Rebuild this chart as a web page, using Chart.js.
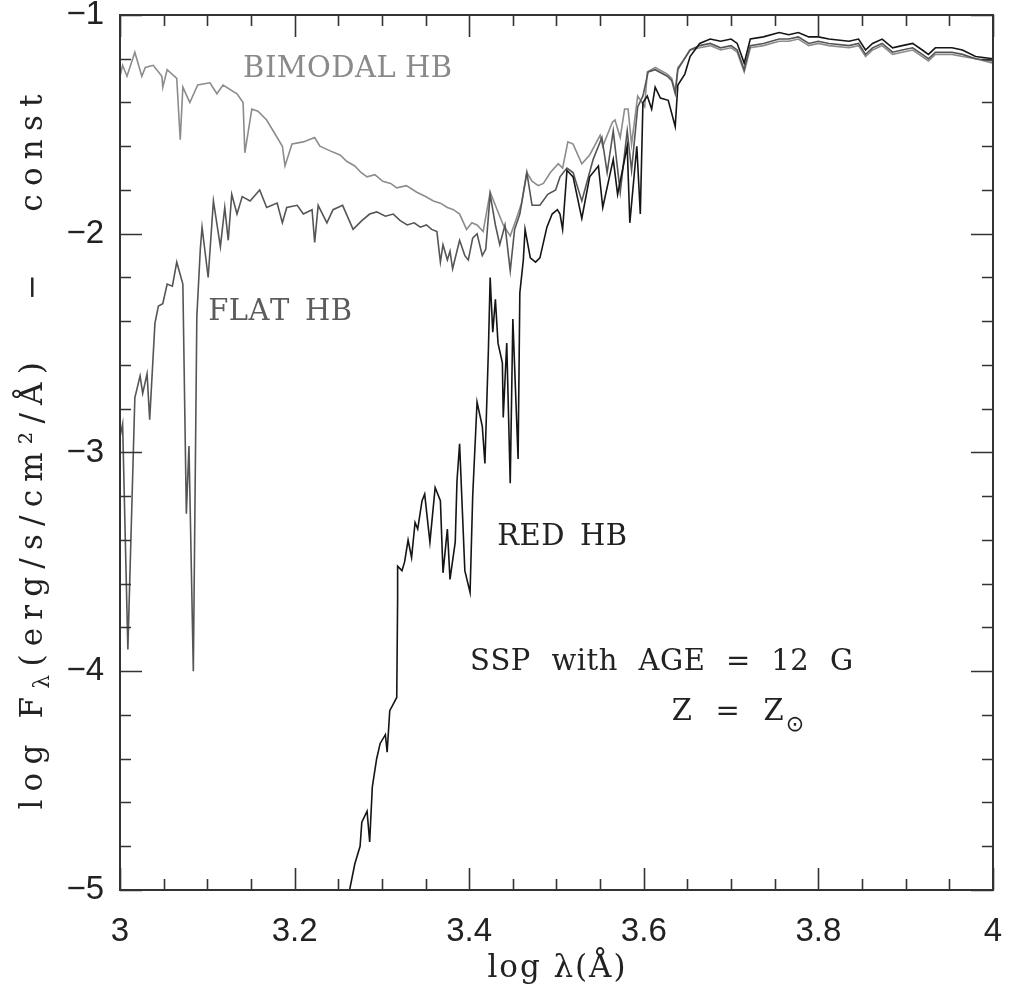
<!DOCTYPE html>
<html>
<head>
<meta charset="utf-8">
<script src="https://cdn.jsdelivr.net/npm/chart.js@4.4.1/dist/chart.umd.min.js"></script>
<style>
  html, body { margin: 0; padding: 0; background: #fff; }
  #wrap { width: 1009px; height: 994px; position: relative; }
</style>
</head>
<body>
<div id="wrap"><canvas id="spec"></canvas></div>
<script>
// log lambda (A) vs log F_lambda - const
const redHB = [
  [3.263,-5.00],[3.269,-4.88],[3.275,-4.80],[3.277,-4.69],[3.283,-4.64],[3.286,-4.78],[3.289,-4.53],
  [3.294,-4.40],[3.298,-4.33],[3.304,-4.29],[3.306,-4.37],[3.309,-4.18],[3.313,-4.15],[3.317,-4.12],
  [3.318,-3.67],[3.318,-3.52],[3.323,-3.54],[3.326,-3.50],[3.330,-3.40],[3.334,-3.48],[3.338,-3.32],
  [3.341,-3.35],[3.346,-3.22],[3.349,-3.19],[3.355,-3.41],[3.361,-3.16],[3.367,-3.22],[3.370,-3.55],
  [3.375,-3.35],[3.378,-3.58],[3.384,-3.41],[3.386,-3.13],[3.389,-2.96],[3.395,-3.54],[3.401,-3.64],
  [3.404,-3.20],[3.409,-2.77],[3.415,-2.88],[3.418,-3.05],[3.422,-2.53],[3.424,-2.20],[3.427,-2.45],
  [3.430,-2.30],[3.433,-2.50],[3.438,-2.59],[3.439,-2.84],[3.443,-2.50],[3.447,-3.14],[3.450,-2.39],
  [3.456,-3.03],[3.458,-2.27],[3.462,-2.12],[3.464,-1.98],[3.470,-2.11],[3.476,-2.13],[3.481,-2.11],
  [3.489,-1.97],[3.495,-1.91],[3.501,-1.89],[3.504,-1.91],[3.507,-1.98],[3.512,-1.71],[3.519,-1.74],
  [3.529,-1.93],[3.538,-1.74],[3.548,-1.69],[3.553,-1.88],[3.565,-1.66],[3.570,-1.82],[3.581,-1.60],
  [3.584,-1.95],[3.592,-1.60],[3.596,-1.91],[3.599,-1.40],[3.604,-1.37],[3.609,-1.43],[3.613,-1.33],
  [3.619,-1.38],[3.628,-1.39],[3.636,-1.51],[3.639,-1.32],[3.647,-1.27],[3.653,-1.19],[3.664,-1.13],
  [3.676,-1.11],[3.688,-1.12],[3.700,-1.11],[3.707,-1.13],[3.715,-1.22],[3.722,-1.11],[3.737,-1.10],
  [3.755,-1.08],[3.766,-1.09],[3.777,-1.08],[3.789,-1.10],[3.800,-1.10],[3.812,-1.11],[3.835,-1.12],
  [3.846,-1.11],[3.854,-1.16],[3.862,-1.13],[3.873,-1.11],[3.885,-1.15],[3.896,-1.14],[3.908,-1.13],
  [3.919,-1.16],[3.926,-1.18],[3.934,-1.15],[3.953,-1.15],[3.965,-1.16],[3.980,-1.19],[4.000,-1.20]
];

const flatHB = [
  [3.000,-2.93],[3.003,-2.87],[3.009,-3.90],[3.017,-2.75],[3.023,-2.65],[3.026,-2.73],[3.031,-2.64],
  [3.034,-2.85],[3.040,-2.41],[3.044,-2.33],[3.049,-2.32],[3.054,-2.23],[3.060,-2.24],[3.065,-2.13],
  [3.072,-2.23],[3.076,-3.28],[3.079,-2.97],[3.084,-4.00],[3.088,-2.38],[3.092,-2.07],[3.094,-1.97],
  [3.101,-2.20],[3.107,-1.85],[3.115,-2.06],[3.120,-1.88],[3.124,-2.03],[3.128,-1.82],[3.134,-1.91],
  [3.140,-1.83],[3.149,-1.85],[3.160,-1.80],[3.168,-1.88],[3.180,-1.86],[3.186,-1.95],[3.191,-1.88],
  [3.203,-1.87],[3.210,-1.91],[3.220,-1.89],[3.223,-2.04],[3.227,-1.87],[3.237,-1.95],[3.244,-1.89],
  [3.255,-1.87],[3.267,-1.98],[3.277,-1.94],[3.286,-1.91],[3.294,-1.90],[3.304,-1.92],[3.313,-1.91],
  [3.321,-1.94],[3.329,-1.96],[3.337,-1.95],[3.344,-1.97],[3.351,-1.96],[3.357,-1.98],[3.363,-1.99],
  [3.367,-2.13],[3.370,-2.05],[3.375,-2.12],[3.378,-2.08],[3.381,-2.16],[3.389,-2.03],[3.395,-2.10],
  [3.399,-2.12],[3.404,-2.02],[3.409,-2.00],[3.415,-2.10],[3.419,-2.07],[3.424,-1.82],[3.430,-1.96],
  [3.435,-2.05],[3.441,-1.96],[3.447,-2.17],[3.452,-1.98],[3.458,-1.91],[3.466,-1.72],[3.472,-1.87],
  [3.481,-1.87],[3.490,-1.82],[3.499,-1.80],[3.504,-1.74],[3.512,-1.70],[3.519,-1.72],[3.529,-1.85],
  [3.542,-1.66],[3.552,-1.56],[3.558,-1.72],[3.565,-1.53],[3.573,-1.81],[3.581,-1.53],[3.586,-1.71],
  [3.593,-1.42],[3.599,-1.37],[3.605,-1.26],[3.613,-1.25],[3.627,-1.28],[3.632,-1.30],[3.636,-1.36],
  [3.639,-1.25],[3.645,-1.21],[3.653,-1.16],[3.664,-1.14],[3.676,-1.13],[3.688,-1.15],[3.700,-1.14],
  [3.707,-1.16],[3.715,-1.25],[3.722,-1.14],[3.737,-1.13],[3.755,-1.11],[3.766,-1.11],[3.777,-1.10],
  [3.789,-1.13],[3.800,-1.12],[3.812,-1.13],[3.835,-1.14],[3.846,-1.13],[3.854,-1.18],[3.862,-1.15],
  [3.873,-1.13],[3.885,-1.17],[3.896,-1.16],[3.908,-1.15],[3.919,-1.18],[3.926,-1.20],[3.934,-1.17],
  [3.953,-1.17],[3.965,-1.18],[3.980,-1.20],[4.000,-1.21]
];

const bimodalHB = [
  [3.000,-1.28],[3.003,-1.23],[3.008,-1.28],[3.017,-1.17],[3.025,-1.28],[3.029,-1.24],[3.038,-1.23],
  [3.048,-1.28],[3.049,-1.33],[3.054,-1.25],[3.065,-1.29],[3.069,-1.57],[3.072,-1.33],[3.080,-1.40],
  [3.089,-1.32],[3.103,-1.31],[3.111,-1.36],[3.118,-1.32],[3.134,-1.36],[3.141,-1.40],[3.143,-1.63],
  [3.151,-1.43],[3.158,-1.44],[3.168,-1.48],[3.180,-1.56],[3.186,-1.60],[3.189,-1.69],[3.197,-1.59],
  [3.210,-1.58],[3.223,-1.56],[3.229,-1.60],[3.240,-1.62],[3.252,-1.64],[3.260,-1.67],[3.269,-1.69],
  [3.276,-1.72],[3.283,-1.74],[3.292,-1.73],[3.301,-1.76],[3.310,-1.77],[3.317,-1.79],[3.328,-1.78],
  [3.340,-1.81],[3.350,-1.83],[3.359,-1.85],[3.367,-1.86],[3.375,-1.88],[3.382,-1.89],[3.389,-1.91],
  [3.397,-1.98],[3.403,-1.95],[3.409,-1.96],[3.416,-1.99],[3.424,-1.81],[3.432,-1.89],[3.439,-1.96],
  [3.447,-2.01],[3.455,-1.92],[3.460,-1.86],[3.466,-1.72],[3.472,-1.76],[3.479,-1.78],[3.485,-1.77],
  [3.493,-1.72],[3.502,-1.68],[3.507,-1.70],[3.513,-1.58],[3.519,-1.59],[3.529,-1.68],[3.538,-1.64],
  [3.550,-1.55],[3.553,-1.60],[3.564,-1.49],[3.567,-1.48],[3.573,-1.56],[3.578,-1.43],[3.582,-1.43],
  [3.586,-1.59],[3.593,-1.37],[3.601,-1.42],[3.604,-1.26],[3.613,-1.24],[3.627,-1.27],[3.632,-1.29],
  [3.636,-1.35],[3.639,-1.24],[3.645,-1.21],[3.653,-1.16],[3.664,-1.15],[3.676,-1.14],[3.688,-1.16],
  [3.700,-1.15],[3.707,-1.17],[3.715,-1.26],[3.722,-1.15],[3.737,-1.14],[3.755,-1.12],[3.766,-1.12],
  [3.777,-1.11],[3.789,-1.14],[3.800,-1.13],[3.812,-1.14],[3.835,-1.15],[3.846,-1.14],[3.854,-1.19],
  [3.862,-1.16],[3.873,-1.14],[3.885,-1.18],[3.896,-1.17],[3.908,-1.16],[3.919,-1.19],[3.926,-1.21],
  [3.934,-1.18],[3.953,-1.18],[3.965,-1.19],[3.980,-1.20],[4.000,-1.22]
];

const xRange = [3, 4];
const yRange = [-5, -1];
const xMajor = 0.2, xMinor = 0.05;
const yMajor = 1, yMinor = 0.2;

// text labels anchored in data coordinates (left edge, middle), w = drawn width in px
const notes = [
  { text: 'BIMODAL HB', x: 3.141, y: -1.25, w: 209, color: '#8a8a8a' },
  { text: 'FLAT HB', x: 3.101, y: -2.36, w: 144, color: '#5c5c5c' },
  { text: 'RED HB', x: 3.432, y: -3.39, w: 130, color: '#222' },
  { text: 'SSP with AGE = 12 G', x: 3.401, y: -3.96, w: 383, color: '#222' },
  { text: 'Z = Z', x: 3.632, y: -4.19, w: 112, color: '#222' }
];

const tickFont = { family: '"Liberation Sans", Arial, sans-serif', size: 33 };
const serif = '"DejaVu Serif", "Liberation Serif", serif';

function fmt(v) {
  const r = Math.round(v * 10) / 10;
  return (r < 0 ? '\u2212' + Math.abs(r) : String(r));
}

// draw a string char by char, extra room going to the word gaps
function wordSpaced(ctx, str, x, y, target, letter) {
  const chars = [...str];
  const widths = chars.map(c => ctx.measureText(c).width);
  const nat = widths.reduce((s, v) => s + v, 0) + letter * (chars.length - 1);
  const gaps = chars.filter(c => c === ' ').length;
  const extra = gaps ? (target - nat) / gaps : 0;
  let cx = x;
  chars.forEach((c, i) => {
    if (c !== ' ') ctx.fillText(c, cx, y);
    cx += widths[i] + letter + (c === ' ' ? extra : 0);
  });
  return cx - letter;
}

// draw runs [{t, font, dy}] evenly letter-spaced to a total length, centred on 0
function fitRuns(ctx, runs, target) {
  const items = [];
  runs.forEach(r => {
    ctx.font = r.font;
    [...r.t].forEach(c => items.push({ c, font: r.font, dy: r.dy || 0, w: ctx.measureText(c).width }));
  });
  const nat = items.reduce((s, it) => s + it.w, 0);
  const sp = (target - nat) / (items.length - 1);
  let cx = -target / 2;
  items.forEach(it => {
    ctx.font = it.font;
    if (it.c !== ' ') ctx.fillText(it.c, cx, it.dy);
    cx += it.w + sp;
  });
}

const framePlugin = {
  id: 'frame',
  afterDraw(chart) {
    const { ctx, chartArea: a, scales: { x, y } } = chart;
    ctx.save();
    ctx.strokeStyle = '#333';
    ctx.lineWidth = 2;
    ctx.strokeRect(a.left, a.top, a.right - a.left, a.bottom - a.top);

    ctx.lineWidth = 1.6;
    ctx.beginPath();
    for (let v = xRange[0]; v <= xRange[1] + 1e-9; v += xMinor) {
      const isMajor = Math.abs(v / xMajor - Math.round(v / xMajor)) < 1e-6;
      const len = isMajor ? 22 : 11;
      const px = Math.round(x.getPixelForValue(v)) + 0.5;
      ctx.moveTo(px, a.bottom); ctx.lineTo(px, a.bottom - len);
      ctx.moveTo(px, a.top); ctx.lineTo(px, a.top + len);
    }
    for (let v = yRange[0]; v <= yRange[1] + 1e-9; v += yMinor) {
      const isMajor = Math.abs(v / yMajor - Math.round(v / yMajor)) < 1e-6;
      const len = isMajor ? 22 : 11;
      const py = Math.round(y.getPixelForValue(v)) + 0.5;
      ctx.moveTo(a.left, py); ctx.lineTo(a.left + len, py);
      ctx.moveTo(a.right, py); ctx.lineTo(a.right - len, py);
    }
    ctx.stroke();

    // annotations
    ctx.font = '29px ' + serif;
    ctx.textBaseline = 'middle';
    ctx.textAlign = 'left';
    let zEnd = 0, zy = 0;
    notes.forEach(n => {
      ctx.fillStyle = n.color;
      const px = x.getPixelForValue(n.x), py = y.getPixelForValue(n.y);
      const end = wordSpaced(ctx, n.text, px, py, n.w, 0.5);
      if (n.text === 'Z = Z') { zEnd = end; zy = py; }
    });
    ctx.font = '22px "DejaVu Sans", sans-serif';
    ctx.fillText('\u2299', zEnd + 2, zy + 12);

    // x title
    ctx.fillStyle = '#222';
    ctx.save();
    ctx.translate((a.left + a.right) / 2, 969);
    fitRuns(ctx, [{ t: 'log \u03bb(\u00c5)', font: '31px ' + serif }], 138);
    ctx.restore();

    // y title with subscript lambda
    ctx.save();
    ctx.translate(34, 452);
    ctx.rotate(-Math.PI / 2);
    fitRuns(ctx, [
      { t: 'log F', font: '31px ' + serif },
      { t: '\u03bb', font: '22px ' + serif, dy: 9 },
      { t: '(erg/s/cm\u00b2/\u00c5)   \u2212   const', font: '31px ' + serif }
    ], 715);
    ctx.restore();
    ctx.restore();
  }
};

const toPts = arr => arr.map(([lx, f]) => ({ x: lx, y: f }));

new Chart(document.getElementById('spec'), {
  type: 'line',
  data: {
    datasets: [
      { label: 'RED HB', data: toPts(redHB), borderColor: '#151515', borderWidth: 1.6, pointRadius: 0, tension: 0 },
      { label: 'FLAT HB', data: toPts(flatHB), borderColor: '#555', borderWidth: 1.6, pointRadius: 0, tension: 0 },
      { label: 'BIMODAL HB', data: toPts(bimodalHB), borderColor: '#8c8c8c', borderWidth: 1.6, pointRadius: 0, tension: 0 }
    ]
  },
  options: {
    responsive: true,
    maintainAspectRatio: false,
    animation: false,
    layout: { padding: { top: 15, right: 16, left: 0, bottom: 0 } },
    plugins: { legend: { display: false }, tooltip: { enabled: false } },
    scales: {
      x: {
        type: 'linear', min: xRange[0], max: xRange[1],
        afterFit(s) { s.height = 104; s.paddingLeft = 0; s.paddingRight = 0; },
        grid: { display: false, drawTicks: false },
        border: { display: false },
        ticks: { stepSize: xMajor, padding: 22, color: '#222', font: tickFont, maxRotation: 0, callback: v => fmt(v) }
      },
      y: {
        type: 'linear', min: yRange[0], max: yRange[1],
        afterFit(s) { s.width = 120; s.paddingTop = 0; s.paddingBottom = 0; },
        grid: { display: false, drawTicks: false },
        border: { display: false },
        ticks: { stepSize: yMajor, padding: 16, color: '#222', font: tickFont, callback: v => fmt(v) }
      }
    }
  },
  plugins: [framePlugin]
});
</script>
</body>
</html>
